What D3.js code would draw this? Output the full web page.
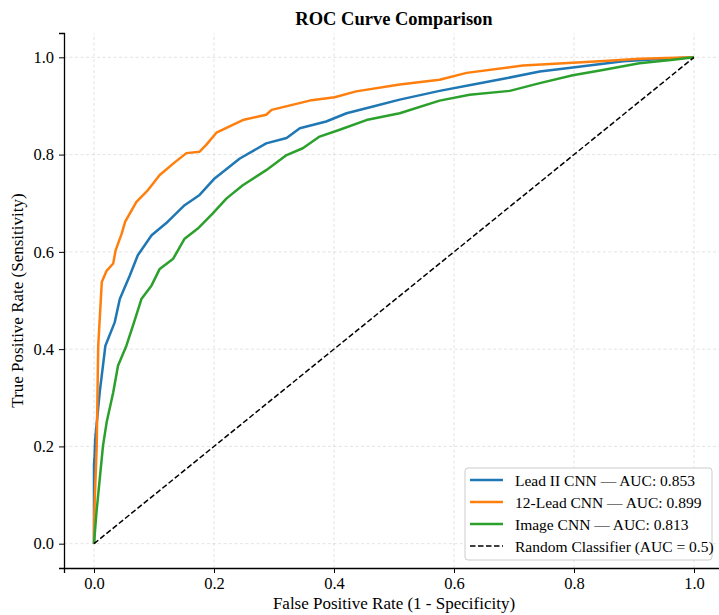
<!DOCTYPE html>
<html>
<head>
<meta charset="utf-8">
<script src="https://cdn.jsdelivr.net/npm/d3@7"></script>
<style>
  body { margin: 0; background: #fff; }
  svg { display: block; font-family: "Liberation Serif", "Times New Roman", serif; }
</style>
</head>
<body>
<svg id="chart" width="719" height="615"></svg>
<script>
// Values: [fpr, tpr] pairs.
const leadIIFpr = [0, 0, 0.001, 0.002, 0.0095, 0.019, 0.0345, 0.043, 0.0595, 0.073, 0.096,
  0.123, 0.151, 0.176, 0.201, 0.243, 0.287, 0.321, 0.343, 0.387, 0.421, 0.465, 0.5095,
  0.576, 0.632, 0.687, 0.743, 0.798, 0.882, 0.937, 1.0];
const leadIITpr = [0, 0.163, 0.18, 0.215, 0.311, 0.407, 0.455, 0.503, 0.551, 0.593, 0.634,
  0.662, 0.696, 0.717, 0.751, 0.792, 0.823, 0.834, 0.854, 0.868, 0.885, 0.899, 0.913,
  0.931, 0.944, 0.957, 0.971, 0.979, 0.992, 0.996, 1.0];

const twelveLeadFpr = [0, 0.0005, 0.0045, 0.007, 0.013, 0.021, 0.032, 0.036, 0.046, 0.052,
  0.0707, 0.09, 0.1095, 0.1345, 0.154, 0.176, 0.187, 0.204, 0.248, 0.287, 0.296, 0.3595,
  0.401, 0.437, 0.5095, 0.576, 0.621, 0.715, 0.843, 0.91, 1.0];
const twelveLeadTpr = [0, 0.064, 0.2, 0.406, 0.538, 0.561, 0.576, 0.603, 0.637, 0.662,
  0.703, 0.727, 0.758, 0.784, 0.803, 0.806, 0.82, 0.845, 0.871, 0.882, 0.892, 0.911,
  0.918, 0.93, 0.944, 0.954, 0.968, 0.983, 0.992, 0.997, 1.0];

const imageFpr = [0, 0.004, 0.0095, 0.015, 0.021, 0.032, 0.04, 0.054, 0.0667, 0.079, 0.096,
  0.1095, 0.132, 0.151, 0.173, 0.198, 0.221, 0.248, 0.287, 0.321, 0.348, 0.376, 0.4095,
  0.454, 0.5095, 0.576, 0.626, 0.693, 0.743, 0.798, 0.848, 0.909, 0.965, 1.0];
const imageTpr = [0, 0.063, 0.132, 0.201, 0.249, 0.311, 0.366, 0.407, 0.455, 0.503, 0.531,
  0.565, 0.586, 0.627, 0.648, 0.679, 0.71, 0.737, 0.768, 0.799, 0.813, 0.837, 0.851,
  0.871, 0.885, 0.911, 0.923, 0.931, 0.947, 0.963, 0.974, 0.988, 0.995, 1.0];

const seriesNames = ['Lead II CNN — AUC: 0.853', '12-Lead CNN — AUC: 0.899', 'Image CNN — AUC: 0.813'];
const seriesColors = ['#1f77b4', '#ff7f0e', '#2ca02c'];
const randomLabel = 'Random Classifier (AUC = 0.5)';
const tickValues = [0, 0.2, 0.4, 0.6, 0.8, 1.0];

const zip = (xs, ys) => xs.map((x, i) => [x, ys[i]]);
const series = [
  zip(leadIIFpr, leadIITpr),
  zip(twelveLeadFpr, twelveLeadTpr),
  zip(imageFpr, imageTpr),
];

const svg = d3.select('#chart');
const margin = {top: 33, left: 64};
const plotW = 660, plotH = 535;

const x = d3.scaleLinear().domain([-0.05, 1.05]).range([margin.left, margin.left + plotW]);
const y = d3.scaleLinear().domain([-0.05, 1.05]).range([margin.top + plotH, margin.top]);

// Grid lines.
const grid = svg.append('g');
grid.selectAll('.gx').data(tickValues).join('line')
    .attr('x1', d => x(d)).attr('x2', d => x(d))
    .attr('y1', y(-0.05)).attr('y2', y(1.05))
    .attr('stroke', '#b0b0b0').attr('stroke-opacity', 0.45)
    .attr('stroke-width', 0.8).attr('stroke-dasharray', '3,2.5');
grid.selectAll('.gy').data(tickValues).join('line')
    .attr('y1', d => y(d)).attr('y2', d => y(d))
    .attr('x1', x(-0.05)).attr('x2', x(1.05))
    .attr('stroke', '#b0b0b0').attr('stroke-opacity', 0.45)
    .attr('stroke-width', 0.8).attr('stroke-dasharray', '3,2.5');

// Curves.
const line = d3.line().x(d => x(d[0])).y(d => y(d[1]));
svg.selectAll('.roc').data(series).join('path')
    .attr('d', line)
    .attr('fill', 'none')
    .attr('stroke', (d, i) => seriesColors[i])
    .attr('stroke-width', 2.5)
    .attr('stroke-linejoin', 'round');

svg.append('path')
    .attr('d', line([[0, 0], [1, 1]]))
    .attr('stroke', '#000').attr('stroke-width', 1.5)
    .attr('stroke-dasharray', '5.5,2.5').attr('fill', 'none');

// Axes (left and bottom spines only).
const xAxis = svg.append('g')
    .attr('transform', `translate(0,${y(-0.05)})`)
    .call(d3.axisBottom(x).tickValues(tickValues).tickFormat(d3.format('.1f')).tickSizeOuter(0).tickSize(5).tickPadding(4));
const yAxis = svg.append('g')
    .attr('transform', `translate(${x(-0.05)},0)`)
    .call(d3.axisLeft(y).tickValues(tickValues).tickFormat(d3.format('.1f')).tickSizeOuter(0).tickSize(5).tickPadding(5));
[xAxis, yAxis].forEach(a => {
  a.attr('font-family', '"Liberation Serif", serif').attr('font-size', 16.5);
  a.select('.domain').attr('stroke', '#000').attr('stroke-width', 1.3);
  a.selectAll('.tick line').attr('stroke', '#000').attr('stroke-width', 1);
  a.selectAll('.tick text').attr('fill', '#000');
});

// Labels.
svg.append('text')
    .attr('x', x(0.5)).attr('y', 25)
    .attr('text-anchor', 'middle')
    .attr('font-size', 18.5).attr('font-weight', 'bold')
    .text('ROC Curve Comparison');
svg.append('text')
    .attr('x', x(0.5)).attr('y', 609)
    .attr('text-anchor', 'middle')
    .attr('font-size', 17)
    .text('False Positive Rate (1 - Specificity)');
svg.append('text')
    .attr('transform', `translate(23,${y(0.5)}) rotate(-90)`)
    .attr('text-anchor', 'middle')
    .attr('font-size', 17)
    .text('True Positive Rate (Sensitivity)');

// Legend.
const legend = svg.append('g').attr('transform', 'translate(465,468)');
legend.append('rect')
    .attr('width', 247).attr('height', 92).attr('rx', 3)
    .attr('fill', '#fff').attr('fill-opacity', 0.85)
    .attr('stroke', '#cccccc').attr('stroke-width', 1);
const legendItems = seriesNames.map((n, i) => ({name: n, color: seriesColors[i], dash: null}))
    .concat([{name: randomLabel, color: '#000', dash: '5.5,2.5'}]);
const rows = legend.selectAll('.row').data(legendItems).join('g')
    .attr('transform', (d, i) => `translate(0,${12 + i * 22})`);
rows.append('line')
    .attr('x1', 5).attr('x2', 38)
    .attr('stroke', d => d.color)
    .attr('stroke-width', d => d.dash ? 1.5 : 2.5)
    .attr('stroke-dasharray', d => d.dash);
rows.append('text')
    .attr('x', 50).attr('y', 5.5)
    .attr('font-size', 15.5)
    .text(d => d.name);
</script>
</body>
</html>
